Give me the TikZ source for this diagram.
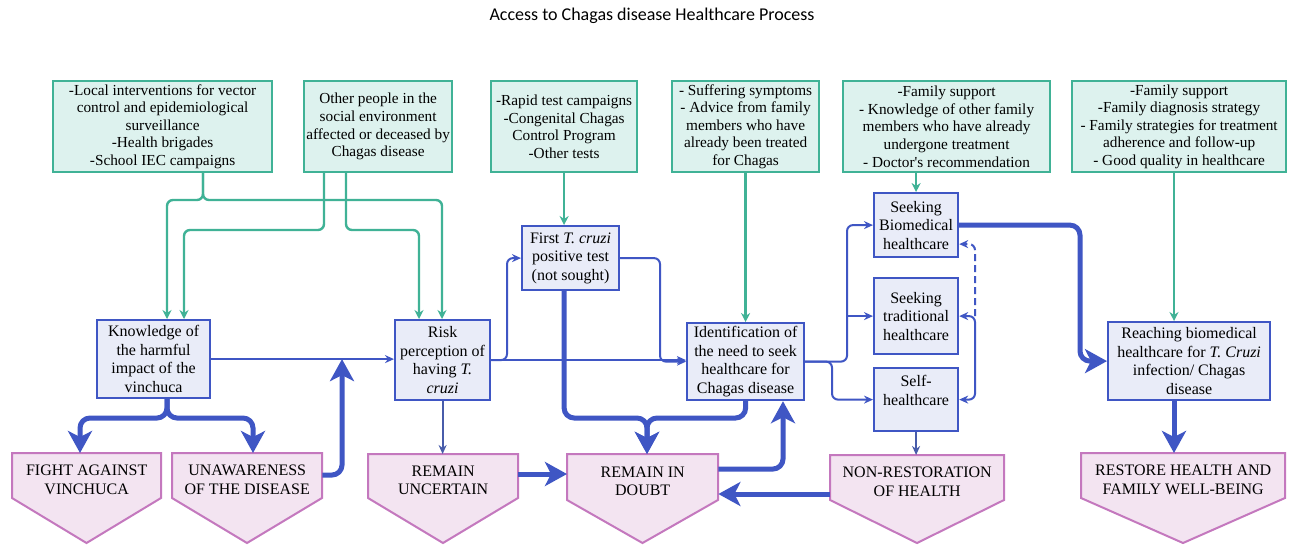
\documentclass[tikz,border=0pt]{standalone}
\usepackage{fontspec}
\setmainfont{Liberation Serif}
\newfontfamily\bodyfont{Liberation Serif}
\newfontfamily\titlefont{Carlito}
\usetikzlibrary{arrows.meta,calc}
\definecolor{tealc}{RGB}{64,178,150}
\definecolor{tealfill}{RGB}{221,242,238}
\definecolor{bluec}{RGB}{63,86,196}
\definecolor{darkblue}{RGB}{72,92,170}
\definecolor{bluefill}{RGB}{233,236,248}
\definecolor{pinkc}{RGB}{196,120,190}
\definecolor{pinkfill}{RGB}{243,228,241}
\newcommand\pentshape[7]{%
  \filldraw[pent] (#2,#4) -- (#3,#4) -- (#3,#5) -- ({(#2+#3)/2},#6) -- (#2,#5) -- cycle;
  \node[plabel, minimum width={#3-#2}, minimum height={#5-#4+8}, anchor=north west] (#1) at (#2,#4) {#7};
}
\begin{document}
\begin{tikzpicture}[x=1pt,y=-1pt,
  tbox/.style={draw=tealc, fill=tealfill, line width=2.2pt, inner sep=0pt, align=center, anchor=north west, font=\bodyfont\fontsize{15.3}{17.6}\selectfont},
  bbox/.style={draw=bluec, fill=bluefill, line width=2.2pt, inner sep=0pt, align=center, anchor=north west, font=\bodyfont\fontsize{16}{18.5}\selectfont},
  pent/.style={draw=pinkc, fill=pinkfill, line width=2pt},
  plabel/.style={inner sep=0pt, align=center, font=\bodyfont\fontsize{16}{18.5}\selectfont},
  tealarrow/.style={draw=tealc, line width=2.4pt, -{Stealth[length=9pt,width=9pt]}, rounded corners=6pt},
  thinarrow/.style={draw=bluec, line width=2pt, -{Stealth[length=9pt,width=8pt]}, rounded corners=6pt},
  darkarrow/.style={draw=darkblue, line width=2pt, -{Stealth[length=9pt,width=8pt]}},
  thickarrow/.style={draw=bluec, line width=5pt, -{Stealth[length=22pt,width=24pt,inset=6pt]}, rounded corners=10pt}
]
\useasboundingbox[fill=white] (0,0) rectangle (1290,544);

\node[font=\titlefont\fontsize{18}{21}\selectfont] (title) at (652,16) {Access to Chagas disease Healthcare Process};

% top boxes
\node[tbox, minimum width=219, minimum height=91] (local) at (52,80) {-Local interventions for vector\\control and epidemiological\\surveillance\\-Health brigades\\-School IEC campaigns};
\node[tbox, minimum width=148, minimum height=91] (other) at (303,80) {Other people in the\\social environment\\affected or deceased by\\Chagas disease};
\node[tbox, minimum width=146, minimum height=91] (rapid) at (490,80) {-Rapid test campaigns\\-Congenital Chagas\\Control Program\\-Other tests};
\node[tbox, minimum width=147, minimum height=91] (sympt) at (671,80) {- Suffering symptoms\\- Advice from family\\members who have\\already been treated\\for Chagas};
\node[tbox, minimum width=207, minimum height=91] (fam1) at (842,80) {-Family support\\- Knowledge of other family\\members who have already\\undergone treatment\\- Doctor's recommendation};
\node[tbox, minimum width=214, minimum height=91] (fam2) at (1071,80) {-Family support\\-Family diagnosis strategy\\- Family strategies for treatment\\adherence and follow-up\\- Good quality in healthcare};

% middle boxes
\node[bbox, minimum width=113, minimum height=78] (know) at (96,319) {Knowledge of\\the harmful\\impact of the\\vinchuca};
\node[bbox, minimum width=95, minimum height=80] (risk) at (394,319) {Risk\\perception of\\having \textit{T.}\\\textit{cruzi}};
\node[bbox, minimum width=97, minimum height=64] (first) at (521,225) {First \textit{T. cruzi}\\positive test\\(not sought)};
\node[bbox, minimum width=117, minimum height=77] (ident) at (686,322) {Identification of\\the need to seek\\healthcare for\\Chagas disease};
\node[bbox, minimum width=84, minimum height=64] (bio) at (873,192) {Seeking\\Biomedical\\healthcare};
\node[bbox, minimum width=84, minimum height=76] (trad) at (873,277) {Seeking\\traditional\\healthcare};
\node[bbox, minimum width=84, minimum height=63] (self) at (873,367) {Self-\\healthcare\\\mbox{}};
\node[bbox, minimum width=162, minimum height=78] (reach) at (1107,321) {Reaching biomedical\\healthcare for \textit{T. Cruzi}\\infection/ Chagas\\disease};

% bottom pentagons
\pentshape{fight}{12}{161}{453}{498}{543}{FIGHT AGAINST\\VINCHUCA}
\pentshape{unaware}{172}{322}{453}{498}{543}{UNAWARENESS\\OF THE DISEASE}
\pentshape{uncert}{368}{518}{454}{498}{543}{REMAIN\\UNCERTAIN}
\pentshape{doubt}{567}{718}{454}{500}{543}{REMAIN IN\\DOUBT}
\pentshape{nonrest}{830}{1004}{455}{500}{543}{NON-RESTORATION\\OF HEALTH}
\pentshape{restore}{1081}{1285}{453}{498}{543}{RESTORE HEALTH AND\\FAMILY WELL-BEING}

% helper coordinates
\coordinate (s1) at (203,200);
\coordinate (s2) at (324,230);
\coordinate (s3) at (346,230);
\coordinate (k1) at (167,0);
\coordinate (k2) at (184,0);
\coordinate (r1) at (419,0);
\coordinate (r2) at (442,0);
\coordinate (f2) at (1174,0);
\coordinate (b3) at (507,0);
\coordinate (b4) at (660,0);
\coordinate (b6) at (847,0);
\coordinate (b8) at (832,0);
\coordinate (b9) at (975,0);
\coordinate (kx) at (167,418);
\coordinate (f1) at (80,0);
\coordinate (u1) at (253,0);
\coordinate (k3) at (342,475);
\coordinate (dj) at (647,418);
\coordinate (k6) at (0,474);
\coordinate (k7) at (783,469);
\coordinate (k8) at (0,494);
\coordinate (k9) at (1080,0);

% teal connectors
\draw[tealarrow] (local.south -| s1) -- (s1) -| (know.north -| k1);
\draw[tealarrow] (local.south -| s1) -- (s1) -| (risk.north -| r2);
\draw[tealarrow] (other.south -| s2) -- (s2) -| (know.north -| k2);
\draw[tealarrow] (other.south -| s3) -- (s3) -| (risk.north -| r1);
\draw[tealarrow] (rapid.south) -- (rapid.south |- first.north);
\draw[tealarrow] (sympt.south) -- (sympt.south |- ident.north);
\draw[tealarrow] (fam1.south -| bio.north) -- (bio.north);
\draw[tealarrow] (fam2.south -| f2) -- (reach.north -| f2);

% thin blue connectors
\draw[thinarrow] (know.east) -- (risk.west |- know.east);
\draw[thinarrow] (risk.east) -- (ident.west |- risk.east);
\draw[thinarrow] (risk.east) -| (b3 |- first.west) -- (first.west);
\draw[thinarrow] (first.east) -| (b4 |- ident.west) -- (ident.west);
\draw[darkarrow] (risk.south) -- (risk.south |- uncert.north);
\draw[thinarrow] (ident.east) -| (b6 |- bio.west) -- (bio.west);
\draw[thinarrow] (b6 |- trad.west) -- (trad.west);
\draw[thinarrow] (ident.east) -| (b8 |- self.west) -- (self.west);
\draw[thinarrow, {Stealth[length=9pt,width=8pt]}-{Stealth[length=9pt,width=8pt]}] (trad.east) -| (b9 |- self.east) -- (self.east);
\draw[thinarrow, dashed, dash pattern=on 7pt off 4pt] (b9 |- trad.east) |- ($(bio.east)+(0,19)$);
\draw[darkarrow] (self.south) -- (self.south |- nonrest.north);

% thick blue connectors
\draw[thickarrow] (know.south -| kx) -- (kx) -| (fight.north -| f1);
\draw[thickarrow] (know.south -| kx) -- (kx) -| (unaware.north -| u1);
\draw[thickarrow] (unaware.east |- k3) -| (k3 |- know.east);
\draw[thickarrow] (first.south -| rapid.south) |- (dj) -- (doubt.north -| dj);
\draw[thickarrow] (ident.south) |- (dj) -- (doubt.north -| dj);
\draw[thickarrow] (uncert.east |- k6) -- (doubt.west |- k6);
\draw[thickarrow] (doubt.east |- k7) -| (k7 |- ident.south);
\draw[thickarrow] (nonrest.west |- k8) -- (doubt.east |- k8);
\draw[thickarrow] (bio.east) -| (k9 |- reach.west) -- (reach.west);
\draw[thickarrow] (reach.south -| f2) -- (restore.north -| f2);
\end{tikzpicture}
\end{document}
